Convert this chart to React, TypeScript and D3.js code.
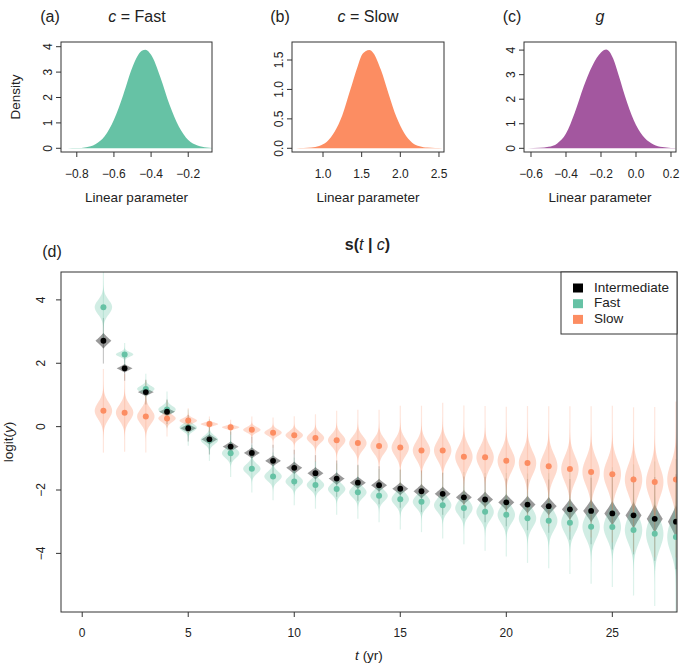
import React from 'react';
import * as d3 from 'd3';

const FONT = '"Liberation Sans", Arial, Helvetica, sans-serif';

// ---------- Panels (a)-(c): posterior densities of the linear parameters ----------
const fastGrid = [-0.85, -0.8, -0.75, -0.7, -0.65, -0.6, -0.55, -0.5, -0.45, -0.43, -0.4, -0.35, -0.3, -0.25, -0.2, -0.15, -0.1, -0.072];
const fastDens = [0.004, 0.01, 0.045, 0.16, 0.47, 1.12, 2.1, 3.2, 3.84, 3.88, 3.68, 2.8, 1.7, 0.85, 0.33, 0.11, 0.03, 0.01];

const slowGrid = [0.65, 0.75, 0.85, 0.95, 1.05, 1.15, 1.25, 1.35, 1.45, 1.5, 1.55, 1.6, 1.65, 1.75, 1.85, 1.95, 2.05, 2.15, 2.25, 2.35, 2.45, 2.55];
const slowDens = [0.002, 0.004, 0.012, 0.04, 0.11, 0.28, 0.56, 0.98, 1.4, 1.58, 1.65, 1.67, 1.62, 1.33, 0.92, 0.53, 0.26, 0.1, 0.035, 0.012, 0.004, 0.001];

const gGrid = [-0.62, -0.55, -0.5, -0.45, -0.4, -0.35, -0.3, -0.25, -0.2, -0.17, -0.13, -0.1, -0.05, 0.0, 0.05, 0.1, 0.15, 0.2, 0.225];
const gDens = [0.005, 0.02, 0.06, 0.2, 0.6, 1.45, 2.5, 3.35, 3.9, 4.02, 3.65, 3.0, 1.85, 0.95, 0.42, 0.16, 0.05, 0.015, 0.008];

const fastXTicks = [-0.8, -0.6, -0.4, -0.2];
const slowXTicks = [1.0, 1.5, 2.0, 2.5];
const gXTicks = [-0.6, -0.4, -0.2, 0.0, 0.2];
const fastYTicks = [0, 1, 2, 3, 4];
const slowYTicks = [0.0, 0.5, 1.0, 1.5];
const gYTicks = [0, 1, 2, 3, 4];

// ---------- Panel (d): s(t | c) ----------
const years = [1, 2, 3, 4, 5, 6, 7, 8, 9, 10, 11, 12, 13, 14, 15, 16, 17, 18, 19, 20, 21, 22, 23, 24, 25, 26, 27, 28];
const interMedian = [2.71, 1.84, 1.09, 0.47, -0.05, -0.40, -0.63, -0.83, -1.08, -1.30, -1.47, -1.64, -1.77, -1.85, -1.96, -2.04, -2.12, -2.23, -2.30, -2.39, -2.46, -2.51, -2.61, -2.66, -2.74, -2.80, -2.91, -3.00];
const fastMedian = [3.77, 2.28, 1.19, 0.54, -0.03, -0.42, -0.84, -1.33, -1.57, -1.73, -1.84, -1.97, -2.07, -2.18, -2.29, -2.37, -2.48, -2.57, -2.69, -2.78, -2.89, -2.97, -3.03, -3.16, -3.17, -3.26, -3.38, -3.48];
const slowMedian = [0.50, 0.44, 0.32, 0.26, 0.19, 0.08, -0.02, -0.10, -0.19, -0.27, -0.36, -0.43, -0.52, -0.61, -0.66, -0.75, -0.75, -0.95, -0.97, -1.08, -1.15, -1.25, -1.34, -1.43, -1.50, -1.67, -1.75, -1.67];
// half-extent of the violin body (logit units)
const interSpread = [0.24, 0.13, 0.13, 0.13, 0.14, 0.16, 0.16, 0.17, 0.17, 0.19, 0.19, 0.19, 0.19, 0.20, 0.20, 0.22, 0.22, 0.22, 0.24, 0.25, 0.27, 0.28, 0.32, 0.35, 0.38, 0.41, 0.44, 0.50];
const fastSpread = [0.38, 0.12, 0.16, 0.19, 0.19, 0.22, 0.25, 0.25, 0.25, 0.25, 0.25, 0.27, 0.28, 0.28, 0.32, 0.32, 0.35, 0.38, 0.41, 0.44, 0.47, 0.50, 0.54, 0.60, 0.63, 0.69, 0.76, 0.82];
const slowSpread = [0.44, 0.41, 0.38, 0.19, 0.13, 0.08, 0.08, 0.14, 0.16, 0.20, 0.25, 0.31, 0.35, 0.38, 0.44, 0.47, 0.50, 0.54, 0.54, 0.57, 0.60, 0.63, 0.66, 0.69, 0.72, 0.76, 0.79, 0.82];
const dXTicks = [0, 5, 10, 15, 20, 25];
const dYTicks = [4, 2, 0, -2, -4];

const legendLabels = ['Intermediate', 'Fast', 'Slow'];
const COL_FAST = '#66C2A5';
const COL_SLOW = '#FC8D62';
const COL_INTER = '#000000';
const COL_G = '#A3579F';

const fmtMinus = (s: string) => s.replace('-', '\u2212');

type DensProps = {
  left: number; right: number; top: number; bottom: number;
  xDomain: [number, number]; yDomain: [number, number];
  xTicks: number[]; yTicks: number[]; xFmt: (v: number) => string; yFmt: (v: number) => string;
  grid: number[]; dens: number[]; color: string;
  tag: string; tagX: number; title: React.ReactNode; titleX: number; yLabel?: boolean; yTickLabelX: number;
};

function DensityPanel(p: DensProps) {
  const x = d3.scaleLinear().domain(p.xDomain).range([p.left, p.right]);
  const y = d3.scaleLinear().domain(p.yDomain).range([p.bottom, p.top]);
  const pts = p.grid.map((g, i) => [g, p.dens[i]] as [number, number]);
  const area = d3.area<[number, number]>().x(d => x(d[0])).y0(y(0)).y1(d => y(d[1])).curve(d3.curveMonotoneX);
  const cx = (p.left + p.right) / 2;
  return (
    <g>
      <text x={p.tagX} y={21.5} fontSize={16} textAnchor="middle" fill="#222">{p.tag}</text>
      <text x={p.titleX} y={21.5} fontSize={16} textAnchor="middle" fill="#222">{p.title}</text>
      <path d={area(pts) || ''} fill={p.color} />
      <rect x={p.left} y={p.top} width={p.right - p.left} height={p.bottom - p.top} fill="none" stroke="#333" strokeWidth={1} />
      {p.xTicks.map(t => (
        <g key={'x' + t}>
          <line x1={x(t)} x2={x(t)} y1={p.bottom} y2={p.bottom + 5} stroke="#333" />
          <text x={x(t)} y={178} fontSize={12} textAnchor="middle" fill="#222">{p.xFmt(t)}</text>
        </g>
      ))}
      {p.yTicks.map(t => (
        <g key={'y' + t}>
          <line x1={p.left - 5} x2={p.left} y1={y(t)} y2={y(t)} stroke="#333" />
          <text transform={`translate(${p.yTickLabelX},${y(t)}) rotate(-90)`} fontSize={12} textAnchor="middle" fill="#222">{p.yFmt(t)}</text>
        </g>
      ))}
      <text x={cx} y={201.5} fontSize={13.5} textAnchor="middle" fill="#222">Linear parameter</text>
      {p.yLabel && (
        <text transform={`translate(19.5,${(p.top + p.bottom) / 2}) rotate(-90)`} fontSize={13.5} textAnchor="middle" fill="#222">Density</text>
      )}
    </g>
  );
}

const D = { left: 61, right: 677, top: 272, bottom: 612 };

function violinPath(cx: number, mu: number, h: number, ys: d3.ScaleLinear<number, number>, W: number, sharp: boolean) {
  const us = d3.range(-3, 3.0001, 0.04);
  const pts = us.map(u => {
    let w: number;
    if (sharp) {
      const a = Math.abs(u) / 1.05;
      w = a < 1 ? W * Math.pow(1 - a, 1.15) : 0;
    } else {
      const z = 1.65 * u;
      w = W * Math.exp(-0.5 * z * z);
    }
    return { v: mu + u * h, w };
  });
  const area = d3.area<{ v: number; w: number }>()
    .y(d => ys(d.v))
    .x0(d => cx - d.w)
    .x1(d => cx + d.w)
    .curve(d3.curveLinear);
  return area(pts) || '';
}

function PanelD() {
  const x = d3.scaleLinear().domain([-1.0, 28.05]).range([D.left, D.right]);
  const y = d3.scaleLinear().domain([-5.85, 4.88]).range([D.bottom, D.top]);
  const series = [
    { med: interMedian, sp: interSpread, col: COL_INTER, op: 0.4, sharp: true, W: 8 },
    { med: fastMedian, sp: fastSpread, col: COL_FAST, op: 0.3, sharp: false, W: 8.7 },
    { med: slowMedian, sp: slowSpread, col: COL_SLOW, op: 0.32, sharp: false, W: 8.7 },
  ];
  return (
    <g>
      <text x={52} y={256.5} fontSize={16} textAnchor="middle" fill="#222">(d)</text>
      <text x={367.5} y={250} fontSize={16} textAnchor="middle" fill="#222" fontWeight="bold">
        s(<tspan fontStyle="italic" fontWeight="normal">t</tspan> | <tspan fontStyle="italic" fontWeight="normal">c</tspan>)
      </text>
      <defs>
        <clipPath id="clipD">
          <rect x={D.left} y={D.top} width={D.right - D.left} height={D.bottom - D.top} />
        </clipPath>
      </defs>
      <g clipPath="url(#clipD)">
        {series.map((s, si) => (
          <g key={'v' + si}>
            {years.map((t, i) => (
              <g key={t}>
                <line x1={x(t)} x2={x(t)} y1={y(s.med[i] - 3 * s.sp[i])} y2={y(s.med[i] + 3 * s.sp[i])} stroke={s.col} strokeOpacity={0.22} strokeWidth={1.2} />
                <path d={violinPath(x(t), s.med[i], s.sp[i], y, s.W, s.sharp)} fill={s.col} fillOpacity={s.op} />
              </g>
            ))}
          </g>
        ))}
        {[series[1], series[2]].map((s, si) => (
          <g key={'p' + si}>
            {years.map((t, i) => (
              <circle key={t} cx={x(t)} cy={y(s.med[i])} r={3} fill={s.col} />
            ))}
          </g>
        ))}
        {years.map((t, i) => (
          <circle key={'ip' + t} cx={x(t)} cy={y(interMedian[i])} r={2.9} fill={COL_INTER} />
        ))}
      </g>
      <rect x={D.left} y={D.top} width={D.right - D.left} height={D.bottom - D.top} fill="none" stroke="#333" strokeWidth={1} />
      {dXTicks.map(t => (
        <g key={'x' + t}>
          <line x1={x(t)} x2={x(t)} y1={D.bottom} y2={D.bottom + 5} stroke="#333" />
          <text x={x(t)} y={637} fontSize={12} textAnchor="middle" fill="#222">{t}</text>
        </g>
      ))}
      {dYTicks.map(t => (
        <g key={'y' + t}>
          <line x1={D.left - 5} x2={D.left} y1={y(t)} y2={y(t)} stroke="#333" />
          <text transform={`translate(45,${y(t)}) rotate(-90)`} fontSize={12} textAnchor="middle" fill="#222">{fmtMinus(String(t))}</text>
        </g>
      ))}
      <text x={(D.left + D.right) / 2} y={659.5} fontSize={13.5} textAnchor="middle" fill="#222">
        <tspan fontStyle="italic">t</tspan>{'  (yr)'}
      </text>
      <text transform={`translate(13,${(D.top + D.bottom) / 2}) rotate(-90)`} fontSize={13.5} textAnchor="middle" fill="#222">
        logit(<tspan fontStyle="italic">y</tspan>)
      </text>
      {/* legend */}
      <rect x={561} y={272} width={116} height={62} fill="#fff" stroke="#333" strokeWidth={1} />
      {legendLabels.map((lab, i) => (
        <g key={lab}>
          <rect x={573} y={283.5 + i * 15.7} width={10} height={9} fill={[COL_INTER, COL_FAST, COL_SLOW][i]} />
          <text x={594} y={291.5 + i * 15.7} fontSize={13.5} fill="#222">{lab}</text>
        </g>
      ))}
    </g>
  );
}

export default function App() {
  const dec1 = (v: number) => fmtMinus(v.toFixed(1));
  const int0 = (v: number) => String(v);
  return (
    <svg width={685} height={668} style={{ position: 'absolute', left: 0, top: 0, background: '#fff' }} fontFamily={FONT}>
      <rect x={0} y={0} width={685} height={668} fill="#fff" />
      <DensityPanel
        left={61} right={212} top={42} bottom={152}
        xDomain={[-0.885, -0.072]} yDomain={[-0.146, 4.185]}
        xTicks={fastXTicks} yTicks={fastYTicks} xFmt={dec1} yFmt={int0}
        grid={fastGrid} dens={fastDens} color={COL_FAST}
        tag="(a)" tagX={50} titleX={137} yLabel yTickLabelX={52}
        title={<><tspan fontStyle="italic">c</tspan>{' = Fast'}</>}
      />
      <DensityPanel
        left={292} right={444} top={42} bottom={152}
        xDomain={[0.599, 2.565]} yDomain={[-0.063, 1.806]}
        xTicks={slowXTicks} yTicks={slowYTicks} xFmt={dec1} yFmt={dec1}
        grid={slowGrid} dens={slowDens} color={COL_SLOW}
        tag="(b)" tagX={280} titleX={368} yTickLabelX={283}
        title={<><tspan fontStyle="italic">c</tspan>{' = Slow'}</>}
      />
      <DensityPanel
        left={524} right={676} top={42} bottom={152}
        xDomain={[-0.64, 0.2286]} yDomain={[-0.15, 4.33]}
        xTicks={gXTicks} yTicks={gYTicks} xFmt={dec1} yFmt={int0}
        grid={gGrid} dens={gDens} color={COL_G}
        tag="(c)" tagX={512} titleX={600} yTickLabelX={515}
        title={<tspan fontStyle="italic">g</tspan>}
      />
      <PanelD />
    </svg>
  );
}
